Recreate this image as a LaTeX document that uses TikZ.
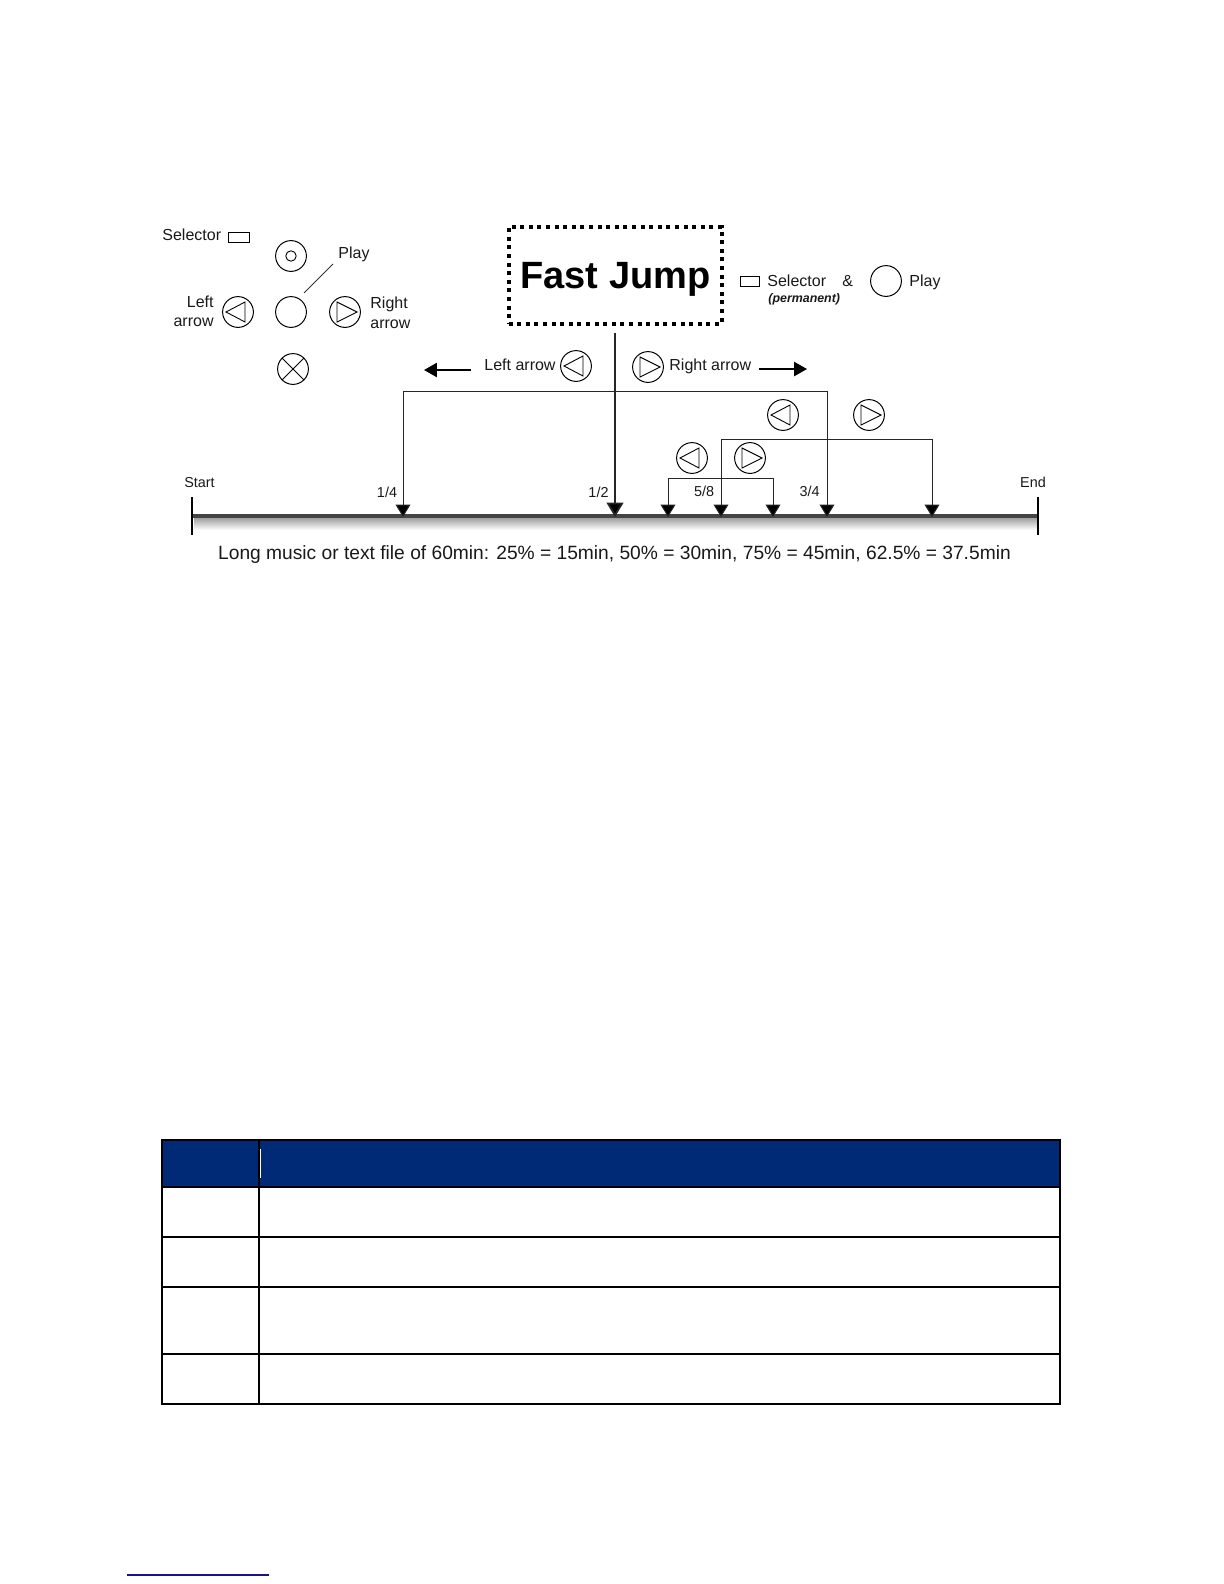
\documentclass[tikz,border=0pt]{standalone}
\usepackage{fontspec}
\setmainfont{Liberation Sans}
\usetikzlibrary{arrows.meta}
\definecolor{navyhead}{HTML}{002A76}
\definecolor{barcol}{HTML}{444444}
\definecolor{fnote}{HTML}{14148C}
\tikzset{
  x=0.5pt,y=-0.5pt,
  btn/.style={circle,draw=black,line width=0.5pt,minimum size=15.4pt,inner sep=0pt},
  lab/.style={inner sep=0pt,font=\fontsize{8}{10}\selectfont,text=black!90},
  tiny/.style={inner sep=0pt,font=\fontsize{7.2}{9}\selectfont,text=black!90},
  thin line/.style={line width=0.45pt,black},
  conn/.style={line width=0.5pt,black!85},
  drop/.style={line width=0.5pt,black!85,-{Triangle[length=6.2pt,width=7.4pt,fill=black]}},
  bigdrop/.style={line width=0.9pt,black!85,-{Triangle[length=7.2pt,width=8.4pt,fill=black]}},
  move/.style={line width=1pt,black,-{Triangle[length=6.4pt,width=7pt,fill=black]}},
  tabline/.style={line width=1pt,black},
}
\newcommand{\lbtn}[3]{%
  \node[btn] (#1) at (#2,#3) {};
  \draw[thin line] (#2+7,#3-10) -- (#2-12,#3) -- (#2+7,#3+10) -- cycle;}
\newcommand{\rbtn}[3]{%
  \node[btn] (#1) at (#2,#3) {};
  \draw[thin line] (#2-8,#3-10) -- (#2+12,#3) -- (#2-8,#3+10) -- cycle;}
\begin{document}
\begin{tikzpicture}
\useasboundingbox (0,0) rectangle (1224,1584);
% Legend
\node[lab,anchor=west] (sel) at (162,234.5) {Selector};
\node[draw,thin line,minimum width=10.5pt,minimum height=5pt,inner sep=0pt] (selbox) at (238.5,237) {};
\node[btn] (top) at (291,256) {};
\node[circle,draw,thin line,minimum size=5.2pt,inner sep=0pt] (topin) at (291,256) {};
\node[btn] (centre) at (291,312) {};
\node[lab,anchor=west] (playl) at (338,254) {Play};
\coordinate (playend) at (333,264);
\coordinate (playstart) at (304,293);
\draw[line width=0.4pt,black!80] (playend) -- (playstart);
\lbtn{lb}{238}{312}
\rbtn{rb}{345}{312}
\node[lab,anchor=east] (lt1) at (214,301.5) {Left};
\node[lab,anchor=east] (lt2) at (214,322) {arrow};
\node[lab,anchor=west] (rt1) at (370,304) {Right};
\node[lab,anchor=west] (rt2) at (370,324) {arrow};
\node[btn] (xb) at (293,369) {};
\draw[thin line] (xb.45) -- (xb.225);
\draw[thin line] (xb.135) -- (xb.315);
% Fast Jump
\node[draw=black,line width=2pt,dash pattern=on 2pt off 2.3pt,minimum width=106.5pt,minimum height=48.5pt,inner sep=0pt] (fj) at (615,275) {};
\node[inner sep=0pt,font=\fontsize{19}{22}\bfseries\selectfont] (fjt) at (615.5,279) {Fast Jump};
\node[draw,thin line,minimum width=9.5pt,minimum height=4.7pt,inner sep=0pt] (selbox2) at (749.5,281.5) {};
\node[lab,anchor=west] (sel2) at (767,281) {Selector};
\node[lab,anchor=west] (amp) at (842,281) {\&};
\node[inner sep=0pt,anchor=west,font=\fontsize{6.2}{8}\bfseries\itshape\selectfont,text=black!90] (perm) at (768,299.5) {(permanent)};
\node[btn] (play2) at (886,281) {};
\node[lab,anchor=west] (play2l) at (909,282) {Play};
% Direction labels
\node[lab,anchor=west] (la) at (484,365) {Left arrow};
\lbtn{lb2}{576}{366}
\rbtn{rb2}{648}{367}
\node[lab,anchor=west] (ra) at (669,366) {Right arrow};
\coordinate (la0) at (471,370); \coordinate (la1) at (424,370);
\draw[move] (la0) -- (la1);
\coordinate (ra0) at (759,369); \coordinate (ra1) at (807,369);
\draw[move] (ra0) -- (ra1);
% Timeline
\shade[top color=black!40,bottom color=white,draw=none] (194,517) rectangle (1038,530);
\coordinate (barL) at (192,516); \coordinate (barR) at (1038,516);
\draw[line width=2.2pt,barcol] (barL) -- (barR);
\coordinate (t0a) at (192,497); \coordinate (t0b) at (192,535);
\coordinate (t1a) at (1038,497); \coordinate (t1b) at (1038,535);
\draw[line width=1pt,black] (t0a) -- (t0b);
\draw[line width=1pt,black] (t1a) -- (t1b);
\coordinate (q14) at (403,517);
\coordinate (q12) at (615,517);
\coordinate (q58a) at (668,517);
\coordinate (q58) at (721,517);
\coordinate (q58b) at (773,517);
\coordinate (q34) at (827,517);
\coordinate (q78) at (932,517);
% Brackets
\coordinate (bigL) at (403,391); \coordinate (bigR) at (827,391);
\draw[conn] (bigL) -- (bigR);
\draw[drop] (bigL) -- (q14);
\draw[drop] (bigR) -- (q34);
\draw[bigdrop] (fj.south |- 0,333) -- (q12);
\coordinate (midL) at (721,439); \coordinate (midR) at (932,439);
\draw[conn] (midL) -- (midR);
\draw[drop] (midL) -- (q58);
\draw[drop] (midR) -- (q78);
\coordinate (lowL) at (668,478); \coordinate (lowR) at (773,478);
\draw[conn] (lowL) -- (lowR);
\draw[drop] (lowL) -- (q58a);
\draw[drop] (lowR) -- (q58b);
\lbtn{lb3}{783}{415}
\rbtn{rb3}{869}{415}
\lbtn{lb4}{692}{458}
\rbtn{rb4}{750}{458}
\node[tiny] (s) at (199.5,482.5) {Start};
\node[tiny] (e) at (1033,482) {End};
\node[tiny] (f14) at (387,492) {1/4};
\node[tiny] (f12) at (598.5,492) {1/2};
\node[tiny] (f58) at (704,491.5) {5/8};
\node[tiny] (f34) at (809.5,491.5) {3/4};
\node[inner sep=0pt,font=\fontsize{9.6}{11}\selectfont,text=black!90] (long) at (614.5,555) {Long music or text file of 60min: 25\% = 15min, 50\% = 30min, 75\% = 45min, 62.5\% = 37.5min};
% Table
\fill[navyhead] (162,1140) rectangle (1060,1187);
\draw[line width=0.6pt,white] (260.5,1149) -- (260.5,1178);
\draw[line width=1.2pt,black] (162,1140) rectangle (1060,1404);
\foreach \yy in {1187,1237,1287,1354} \draw[tabline] (162,\yy) -- (1060,\yy);
\draw[line width=0.6pt,black] (259,1140) -- (259,1404);
% Footnote rule
\draw[line width=0.7pt,fnote] (127,1575) -- (269,1575);
\end{tikzpicture}
\end{document}
